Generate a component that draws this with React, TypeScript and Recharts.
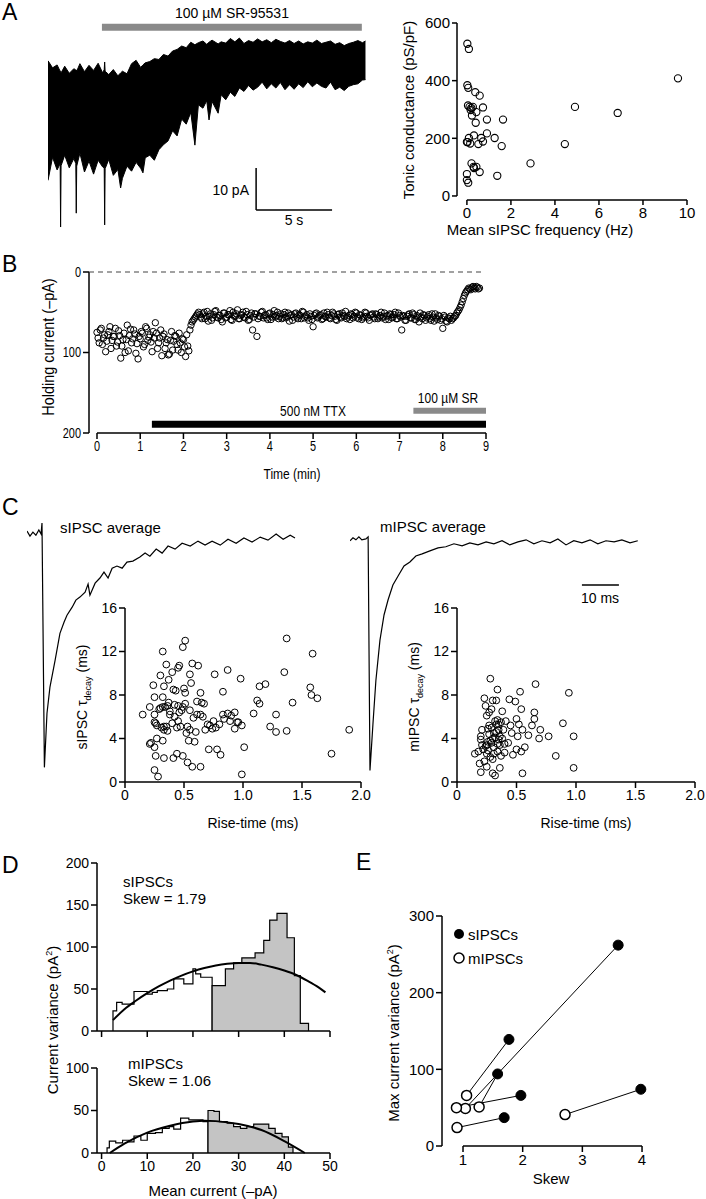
import React from 'react';
import { ComposedChart, Line, Area, Scatter, XAxis, YAxis, ReferenceLine } from 'recharts';

const FONT = '"Liberation Sans", Arial, Helvetica, sans-serif';

// ---------- Panel A: raw trace envelope (s, pA) ----------
const traceTimeS = [0.0,0.3,0.6,0.8,0.83,0.86,1.1,1.4,1.7,1.83,1.86,1.89,2.1,2.4,2.7,3.0,3.3,3.6,3.7,3.73,3.76,4.0,4.3,4.6,4.78,4.9,5.2,5.5,5.8,6.1,6.25,6.4,6.7,7.0,7.3,7.6,7.9,8.2,8.5,8.8,9.1,9.4,9.67,9.9,10.2,10.45,10.6,10.8,11.2,11.4,11.7,12.0,12.3,12.6,12.9,13.2,13.5,13.8,14.1,14.4,14.7,15.0,15.3,15.6,15.9,16.2,16.5,16.8,17.1,17.4,17.7,18.0,18.3,18.6,18.9,19.2,19.5,19.8,20.1,20.4,20.7,20.9];
const traceHighPA = [41.5,39.8,40.5,39.0,39.0,38.6,40.2,38.5,39.6,39.3,39.3,39.0,40.8,38.9,40.4,39.2,40.9,38.6,39.4,41.2,39.0,38.2,39.4,37.9,38.6,39.0,38.4,40.8,41.6,39.9,40.5,41.0,41.3,42.0,41.8,43.0,42.6,43.8,44.2,45.0,44.6,45.9,45.3,45.8,46.2,45.4,45.9,46.4,45.5,46.0,45.7,46.8,46.0,46.9,45.6,46.3,45.9,46.7,46.0,46.5,45.8,46.6,46.1,45.7,46.3,45.6,46.2,45.5,46.0,45.7,46.4,45.6,45.9,46.2,45.4,45.8,45.1,45.6,45.9,46.3,45.8,46.2];
const traceLowPA = [13.0,18.5,15.5,17.0,1.9,16.5,19.0,16.0,18.2,17.0,5.2,16.4,19.5,15.0,17.6,14.5,17.8,16.2,16.0,2.4,15.8,18.0,14.2,15.6,11.2,13.5,16.4,15.2,17.3,15.9,14.8,18.4,19.0,17.8,20.3,21.5,22.4,24.8,23.6,27.6,26.4,29.2,21.4,31.0,30.2,32.0,27.4,31.8,29.0,33.4,32.2,34.0,33.0,35.0,34.2,35.6,34.5,35.2,36.4,34.8,36.0,35.0,36.3,34.6,35.8,34.7,36.0,35.1,36.5,35.3,36.2,35.4,35.0,36.4,34.6,35.2,34.4,35.4,35.8,36.0,36.9,37.0];
const srBarA = { start: 3.55, end: 20.66, level: 49.5 };
const scaleBarA = { t: 13.7, pA0: 5.95, pA1: 15.95, t1: 18.7 };

// ---------- Panel A: scatter ----------
const freqHz = [0.02,0.09,0.02,0.06,0.38,0.58,0.05,0.12,0.2,0.27,0.17,0.73,0.23,0.43,0.91,1.64,0.4,0.91,1.26,0.65,0.32,0.09,0.0,0.03,0.15,0.52,0.73,1.58,4.45,4.91,6.85,9.59,2.89,0.21,0.3,0.43,0.32,0.58,1.38,0.0,0.0,0.06];
const tonicPSpF = [528,510,384,375,360,348,314,309,305,309,298,307,279,291,265,265,254,217,201,201,210,201,187,187,182,180,189,173,180,309,288,408,113,113,101,101,97,83,70,76,55,46];

// ---------- Panel B (two interleaved sample sets, 3 s apart each) ----------
const holdingStepMin = 0.05;
const holdingPA = [75,88,70,82,99,78,68,85,80,92,73,107,84,100,66,79,88,72,101,108,83,76,90,70,81,87,74,63,95,82,104,77,88,103,85,97,79,90,76,100,84,105,92,72,62,58,54,50,56,52,58,49,55,60,53,48,57,54,62,51,56,53,59,50,55,47,58,53,56,49,60,54,72,52,80,55,50,57,53,59,51,56,48,54,58,52,57,50,55,61,53,56,51,58,54,49,57,53,60,55,68,52,57,54,59,51,56,53,58,50,55,60,52,57,54,49,56,59,53,55,51,58,54,57,50,55,60,53,56,52,58,54,57,51,55,59,53,56,50,58,54,72,55,60,53,57,51,59,54,62,56,53,60,55,58,52,61,57,54,60,70,56,62,58,60,57,54,49,44,37,29,24,20,22,18,21,19,20];
const holdingPA2 = [82,72,90,78,86,74,95,80,70,87,79,92,76,84,98,71,83,77,89,80,74,93,68,85,78,99,82,76,88,72,80,95,84,102,74,86,80,97,88,83,93,78,98,66,60,56,52,53,58,50,55,61,52,57,49,56,54,59,51,57,53,48,60,55,52,58,54,50,57,53,59,51,56,52,58,55,49,54,57,52,59,53,56,50,55,58,53,57,51,54,60,52,56,53,58,50,55,57,52,59,54,51,56,53,58,55,50,57,54,52,59,53,56,51,55,58,54,52,57,50,56,53,59,55,51,57,54,52,58,53,56,50,55,59,54,52,57,53,58,51,56,54,60,55,52,57,53,59,56,51,58,54,57,53,60,56,52,59,55,58,54,61,57,55,58,55,51,47,41,33,26,22,21,19,20,18,21];
const ttxBar = { start: 1.27, end: 9.0, level: 189 };
const srBarB = { start: 7.32, end: 9.0, level: 172.5 };

// ---------- Panel C: averages (ms, % of peak) ----------
const sAvgT = [0,0.8,1.6,2.4,3.2,3.8,4.05,4.7,5.4,6.2,7.6,8.9,10.0,10.8,12.2,13.2,14.3,15.7,16.5,17.0,18.4,19.7,20.8,21.9,23.0,24.3,25.7,27.0,28.6,30.5,31.9,33.2,34.9,36.5,38.1,40.0,41.9,44.1,46.2,48.1,50.0,52.2,54.3,56.5,58.6,60.8,63.0,65.1,67.3,69.2,71.1,72.4];
const sAvgV = [0.9,-1.3,0.4,-0.9,1.3,-0.4,4.3,-99.6,-76.6,-65.5,-54,-42.6,-37.9,-34.9,-31.5,-28.5,-27.2,-25.1,-21.7,-26.4,-21.3,-19.1,-16.6,-19.1,-14.9,-14.0,-14.9,-12.3,-11.9,-10.2,-8.5,-9.8,-6.8,-8.5,-5.5,-6.8,-4.3,-5.5,-3.4,-5.1,-3.4,-5.1,-2.6,-4.3,-2.1,-3.8,-1.7,-3.0,-0.4,-2.6,-0.9,-2.1];
const mAvgT = [0,0.8,1.6,2.4,3.2,4.3,4.9,5.4,6.2,7.0,8.1,9.2,10.3,11.6,13.0,14.6,16.2,17.8,19.5,21.6,23.8,25.9,28.1,30.3,32.4,34.6,36.8,38.9,41.1,43.2,45.4,47.6,49.7,51.9,54.1,56.2,58.4,60.5,62.7,64.9,67.0,69.2,71.4,73.5,75.7,77.8];
const mAvgV = [-0.4,0.9,0,1.3,0,0.4,1.3,-100,-80,-61,-43.5,-32.6,-26,-19.6,-15.7,-11.3,-9.6,-7.0,-6.1,-4.8,-3.5,-3.0,-1.7,-2.6,-1.3,-2.2,-0.9,-1.7,-0.4,-2.2,-0.9,0,-1.7,-0.4,-1.3,0.4,-2.2,-0.4,-1.3,0,-1.7,-0.4,-0.9,0,-1.3,-0.4];
const scaleBarC = { t0: 62.7, t1: 72.7, v: -19.6 };

// ---------- Panel C: scatters ----------
const sRise = [0.15,0.21,0.21,0.22,0.25,0.24,0.25,0.25,0.25,0.26,0.27,0.27,0.25,0.28,0.26,0.3,0.32,0.32,0.33,0.32,0.33,0.32,0.33,0.35,0.35,0.37,0.36,0.38,0.4,0.41,0.42,0.41,0.43,0.45,0.46,0.44,0.45,0.47,0.45,0.49,0.51,0.5,0.51,0.49,0.51,0.49,0.53,0.53,0.54,0.55,0.56,0.55,0.57,0.57,0.55,0.59,0.61,0.62,0.61,0.64,0.65,0.64,0.67,0.64,0.68,0.71,0.72,0.75,0.76,0.78,0.8,0.81,0.83,0.83,0.87,0.87,0.89,0.93,0.93,0.95,0.98,0.99,1.01,0.99,1.09,1.12,1.14,1.14,1.19,1.23,1.28,1.28,1.35,1.37,1.37,1.42,1.57,1.58,1.59,1.63,1.75,1.9,0.3,0.31,0.34,0.36,0.38,0.42,0.44,0.48,0.52,0.33,0.37,0.29,0.4,0.46,0.58,0.6,0.66,0.7,0.74,0.77,0.84,0.9,0.96];
const sTau = [6.2,6.9,3.5,3.6,3.2,8.9,7.8,6.2,5.5,5.4,4.0,5.2,1.1,0.5,2.4,9.8,12.0,7.8,8.8,6.9,5.1,3.8,2.2,10.8,5.1,9.4,7.0,6.2,10.1,8.5,6.0,2.2,8.4,10.5,10.7,2.6,5.6,5.1,7.0,12.4,13.0,8.6,8.2,6.9,7.2,2.4,1.8,5.1,3.8,9.9,9.1,6.6,1.4,10.9,4.8,3.7,7.4,10.7,6.2,8.2,7.3,6.2,7.2,1.4,4.8,3.0,5.2,5.6,9.9,3.0,5.3,2.5,8.3,6.2,10.3,6.3,5.6,6.4,4.9,5.5,9.5,5.2,3.2,0.7,6.3,7.5,7.2,8.8,9.0,5.1,4.6,6.2,10.1,13.2,4.7,7.3,8.7,8.0,11.8,7.7,2.6,4.8,6.8,5.0,6.9,4.7,6.5,7.1,5.0,6.6,4.5,4.8,7.3,6.7,5.4,6.4,5.9,4.6,6.0,5.3,4.9,5.0,5.8,6.1,5.5];
const mRise = [0.15,0.2,0.19,0.18,0.2,0.2,0.21,0.23,0.24,0.25,0.25,0.25,0.26,0.27,0.27,0.28,0.28,0.29,0.3,0.3,0.31,0.32,0.32,0.33,0.34,0.34,0.34,0.35,0.36,0.36,0.37,0.38,0.39,0.4,0.41,0.43,0.44,0.45,0.46,0.47,0.49,0.5,0.5,0.51,0.52,0.53,0.54,0.54,0.55,0.55,0.57,0.6,0.63,0.65,0.65,0.66,0.69,0.7,0.77,0.83,0.89,0.94,0.98,0.98,0.22,0.24,0.26,0.28,0.3,0.31,0.33,0.35,0.27,0.29,0.32,0.34,0.36,0.38,0.25,0.23,0.3,0.33,0.37,0.4,0.21,0.26,0.29,0.31,0.35];
const mTau = [2.6,0.9,1.7,2.8,3.9,4.2,4.8,7.7,7.0,6.1,3.4,1.4,3.7,6.4,5.2,2.3,9.5,6.7,7.5,0.8,4.5,5.6,0.6,7.5,3.5,8.5,5.7,5.3,4.2,1.3,2.4,6.5,4.8,3.5,5.6,3.6,7.6,5.2,4.5,2.5,7.4,3.0,5.8,4.2,5.3,8.3,2.8,6.7,0.8,4.8,3.2,4.3,5.2,6.4,5.8,9.0,4.0,4.8,4.2,2.4,5.4,8.2,4.2,1.3,3.0,3.3,2.9,3.8,4.0,3.2,4.6,3.9,4.4,5.0,4.1,2.8,3.4,4.0,2.6,1.9,2.1,5.3,5.5,2.7,3.4,4.9,3.6,2.6,4.8];

// ---------- Panel D ----------
const sWhiteX = [2.5,2.5,3.3,4.5,7.1,10,11.1,12.2,14.4,15.8,18,20,20.6,21.7,24.2];
const sWhiteY = [0,24,34,32,47,44,46,48,50,62,56,74,68,64,0];
const sGrayX = [24.2,24.2,27.1,28.9,30.7,33.6,35.5,36.8,38.4,40.6,42.2,43.5,45.3,45.3];
const sGrayY = [0,54,74,81,87,93,108,132,140,111,66,9,9,0];
const sFitX = [2.5,5,7.5,10,12.5,15,17.5,20,22.5,25,27.5,30,32.5,35,37.5,40,42.5,45,47.5,49];
const sFitY = [13,26,36,45,53,60,66,71,75,78,80,81,81,79,76,72,67,60,52,46];
const mWhiteX = [1.2,1.2,1.7,3.1,4.6,6.0,7.1,8.6,10.0,11.8,13.3,14.8,15.8,17.3,19.1,20.9,22.2,23.3];
const mWhiteY = [0,6,14,12,15,13,20,15,23,24,29,31,28,41,39,39,37,0];
const mGrayX = [23.3,23.3,24.6,25.8,27.5,28.9,30.4,31.8,33.3,36.6,38.0,39.5,40.9,41.9];
const mGrayY = [0,50,49,37,35,31,29,31,34,29,23,19,7,0];
const mFitX = [1.8,5,10,15,20,22.5,25,30,35,40,44.5];
const mFitY = [0,11,24,32,37,38,37.5,34,27,14,0];

// ---------- Panel E ----------
const mSkew = [1.04,1.06,1.27,0.89,0.9,2.71];
const mMaxVar = [49,66,51,50,24,41];
const sSkew = [3.6,1.77,1.58,1.97,1.69,3.98];
const sMaxVar = [262,139,94,66,37,74];

// ---------- helpers ----------
const zip = (xs: number[], ys: number[]) => xs.map((x, i) => ({ x, y: ys[i] }));
const tickStyle = (size: number) => ({ fill: '#000', fontSize: size, fontFamily: FONT });
const AX = { stroke: '#000', strokeWidth: 1.5 };

const narrowTick = (dy: string) => (p: any) => (
  <g transform={`translate(${p.x},${p.y})`}>
    <text transform="scale(0.78,1)" textAnchor={p.textAnchor} dy={dy} fill="#000" fontSize={14} fontFamily={FONT}>
      {p.payload.value}
    </text>
  </g>
);

function frame(x0: number, y0: number, x1: number, y1: number, yW: number, xH: number) {
  const mt = 8, mr = 12, mb = 4;
  return {
    left: x0 - yW, top: y0 - mt,
    width: x1 - x0 + yW + mr, height: y1 - y0 + mt + xH + mb,
    margin: { top: mt, right: mr, bottom: mb, left: 0 },
  };
}

function Chart({ f, data, children }: any) {
  return (
    <div style={{ position: 'absolute', left: f.left, top: f.top }}>
      <ComposedChart width={f.width} height={f.height} margin={f.margin} data={data}>
        {children}
      </ComposedChart>
    </div>
  );
}

function Txt({ x, y, a = 'm', rot = false, size = 14, sx = 1, children }: any) {
  const tx = a === 'm' ? '-50%' : a === 'e' ? '-100%' : '0';
  const origin = a === 'm' ? 'center' : a === 'e' ? 'right center' : 'left center';
  return (
    <div style={{
      position: 'absolute', left: x, top: y, whiteSpace: 'nowrap', lineHeight: 1,
      fontSize: size, fontFamily: FONT, color: '#000', transformOrigin: rot ? 'center' : origin,
      transform: rot ? `translate(-50%, -50%) rotate(-90deg) scaleX(${sx})` : `translate(${tx}, -50%) scaleX(${sx})`,
    }}>{children}</div>
  );
}

const openDot = (r: number, sw = 1, fill = 'none') => (p: any) =>
  <circle cx={p.cx} cy={p.cy} r={r} fill={fill} stroke="#000" strokeWidth={sw} />;
const filledDot = (r: number) => (p: any) => <circle cx={p.cx} cy={p.cy} r={r} fill="#000" stroke="#000" />;

export default function App() {
  const traceRows = traceTimeS.map((t, i) => ({ x: t, r: [traceLowPA[i], traceHighPA[i]] }));
  const aScatter = zip(freqHz, tonicPSpF);
  const bPoints = [
    ...holdingPA.map((v, i) => ({ x: i * holdingStepMin, y: v })),
    ...holdingPA2.map((v, i) => ({ x: (i + 0.5) * holdingStepMin, y: v })),
  ];
  const sAvg = zip(sAvgT, sAvgV);
  const mAvg = zip(mAvgT, mAvgV);
  const sSc = zip(sRise, sTau);
  const mSc = zip(mRise, mTau);
  const dTopRows = [
    ...sWhiteX.map((x, i) => ({ x, w: sWhiteY[i] })),
    ...sGrayX.map((x, i) => ({ x, g: sGrayY[i] })),
  ];
  const dBotRows = [
    ...mWhiteX.map((x, i) => ({ x, w: mWhiteY[i] })),
    ...mGrayX.map((x, i) => ({ x, g: mGrayY[i] })),
  ];

  const fTrace = frame(48, 20, 367, 235, 0, 0);
  const fAS = frame(457, 23, 687, 200, 50, 30);
  const fB = frame(89, 272, 486, 433, 50, 30);
  const fCsT = frame(27, 519, 295, 773, 0, 0);
  const fCmT = frame(350, 526, 640, 775, 0, 0);
  const fCs = frame(125, 608, 361, 782, 40, 30);
  const fCm = frame(457, 608, 695, 782, 40, 30);
  const fDt = frame(97, 863, 330, 1031, 40, 10);
  const fDb = frame(97, 1068, 330, 1153, 40, 30);
  const fE = frame(442, 916, 648, 1146, 50, 30);

  return (
    <div style={{ position: 'absolute', left: 0, top: 0, width: 706, height: 1199, background: '#fff', overflow: 'hidden', fontFamily: FONT }}>
      {/* A trace */}
      <Chart f={fTrace} data={traceRows}>
        <XAxis type="number" dataKey="x" domain={[0, 21]} hide />
        <YAxis type="number" domain={[0, 51.2]} hide />
        <Area dataKey="r" type="linear" fill="#000" fillOpacity={1} stroke="#000" strokeWidth={1} isAnimationActive={false} />
        <ReferenceLine ifOverflow="visible" segment={[{ x: srBarA.start, y: srBarA.level }, { x: srBarA.end, y: srBarA.level }]} stroke="#8a8a8a" strokeWidth={7} />
        <ReferenceLine ifOverflow="visible" segment={[{ x: scaleBarA.t, y: scaleBarA.pA1 }, { x: scaleBarA.t, y: scaleBarA.pA0 }]} stroke="#000" strokeWidth={1.5} />
        <ReferenceLine ifOverflow="visible" segment={[{ x: scaleBarA.t, y: scaleBarA.pA0 }, { x: scaleBarA.t1, y: scaleBarA.pA0 }]} stroke="#000" strokeWidth={1.5} />
      </Chart>

      {/* A scatter */}
      <Chart f={fAS}>
        <XAxis type="number" dataKey="x" domain={[-0.45, 10]} ticks={[0, 2, 4, 6, 8, 10]} interval={0} axisLine={false} tickLine={AX} tick={tickStyle(15)} tickSize={5} height={30} />
        <YAxis type="number" dataKey="y" domain={[-14, 600]} ticks={[0, 200, 400, 600]} interval={0} axisLine={false} tickLine={AX} tick={tickStyle(15)} tickSize={5} width={50} />
        <ReferenceLine ifOverflow="visible" segment={[{ x: -0.45, y: 0 }, { x: -0.45, y: 600 }]} stroke="#000" strokeWidth={1.5} />
        <ReferenceLine ifOverflow="visible" segment={[{ x: 0, y: -14 }, { x: 10, y: -14 }]} stroke="#000" strokeWidth={1.5} />
        <Scatter data={aScatter} dataKey="y" shape={openDot(3.6, 1.1)} isAnimationActive={false} />
      </Chart>

      {/* B */}
      <Chart f={fB}>
        <XAxis type="number" dataKey="x" domain={[-0.185, 9]} ticks={[0, 1, 2, 3, 4, 5, 6, 7, 8, 9]} interval={0} axisLine={false} tickLine={AX} tick={narrowTick('0.71em')} tickSize={6} height={30} />
        <YAxis type="number" dataKey="y" reversed domain={[0, 200]} ticks={[0, 100, 200]} interval={0} axisLine={false} tickLine={AX} tick={narrowTick('0.355em')} tickSize={6} width={50} />
        <ReferenceLine ifOverflow="visible" segment={[{ x: -0.185, y: 0 }, { x: -0.185, y: 200 }]} stroke="#000" strokeWidth={1.5} />
        <ReferenceLine ifOverflow="visible" segment={[{ x: 0, y: 200 }, { x: 9, y: 200 }]} stroke="#000" strokeWidth={1.5} />
        <ReferenceLine ifOverflow="visible" segment={[{ x: -0.185, y: 0 }, { x: 8.95, y: 0 }]} stroke="#444" strokeWidth={1.2} strokeDasharray="5 4" />
        <ReferenceLine ifOverflow="visible" segment={[{ x: ttxBar.start, y: ttxBar.level }, { x: ttxBar.end, y: ttxBar.level }]} stroke="#000" strokeWidth={7} />
        <ReferenceLine ifOverflow="visible" segment={[{ x: srBarB.start, y: srBarB.level }, { x: srBarB.end, y: srBarB.level }]} stroke="#8a8a8a" strokeWidth={6} />
        <Scatter data={bPoints} dataKey="y" shape={openDot(3.2, 1)} isAnimationActive={false} />
      </Chart>

      {/* C traces */}
      <Chart f={fCsT} data={sAvg}>
        <XAxis type="number" dataKey="x" domain={[0, 72.4]} hide />
        <YAxis type="number" domain={[-102, 6]} hide />
        <Line dataKey="y" type="linear" stroke="#000" strokeWidth={1.2} dot={false} isAnimationActive={false} />
      </Chart>
      <Chart f={fCmT} data={mAvg}>
        <XAxis type="number" dataKey="x" domain={[0, 78.4]} hide />
        <YAxis type="number" domain={[-102, 6]} hide />
        <Line dataKey="y" type="linear" stroke="#000" strokeWidth={1.2} dot={false} isAnimationActive={false} />
        <ReferenceLine ifOverflow="visible" segment={[{ x: scaleBarC.t0, y: scaleBarC.v }, { x: scaleBarC.t1, y: scaleBarC.v }]} stroke="#000" strokeWidth={1.5} />
      </Chart>

      {/* C scatters */}
      <Chart f={fCs}>
        <XAxis type="number" dataKey="x" domain={[0, 2]} ticks={[0, 0.5, 1, 1.5, 2]} interval={0} tickFormatter={(v: number) => (v === 0 ? '0' : v.toFixed(1))} axisLine={AX} tickLine={AX} tick={tickStyle(14)} height={30} />
        <YAxis type="number" dataKey="y" domain={[0, 16]} ticks={[0, 4, 8, 12, 16]} interval={0} axisLine={AX} tickLine={AX} tick={tickStyle(14)} width={40} />
        <Scatter data={sSc} dataKey="y" shape={openDot(3.4, 1)} isAnimationActive={false} />
      </Chart>
      <Chart f={fCm}>
        <XAxis type="number" dataKey="x" domain={[0, 2]} ticks={[0, 0.5, 1, 1.5, 2]} interval={0} tickFormatter={(v: number) => (v === 0 ? '0' : v.toFixed(1))} axisLine={AX} tickLine={AX} tick={tickStyle(14)} height={30} />
        <YAxis type="number" dataKey="y" domain={[0, 16]} ticks={[0, 4, 8, 12, 16]} interval={0} axisLine={AX} tickLine={AX} tick={tickStyle(14)} width={40} />
        <Scatter data={mSc} dataKey="y" shape={openDot(3.4, 1)} isAnimationActive={false} />
      </Chart>

      {/* D top */}
      <Chart f={fDt} data={dTopRows}>
        <XAxis type="number" dataKey="x" domain={[-1, 50]} ticks={[0, 10, 20, 30, 40, 50]} interval={0} tickFormatter={() => ''} axisLine={AX} tickLine={AX} tick={tickStyle(14)} height={10} />
        <YAxis type="number" domain={[0, 200]} ticks={[0, 50, 100, 150, 200]} interval={0} axisLine={AX} tickLine={AX} tick={tickStyle(14)} width={40} />
        <Area dataKey="w" type="stepAfter" connectNulls fill="#fff" fillOpacity={1} stroke="#000" strokeWidth={1.2} isAnimationActive={false} />
        <Area dataKey="g" type="stepAfter" connectNulls fill="#c4c4c4" fillOpacity={1} stroke="#000" strokeWidth={1.2} isAnimationActive={false} />
        <Line data={zip(sFitX, sFitY)} dataKey="y" type="monotone" stroke="#000" strokeWidth={2} dot={false} isAnimationActive={false} />
      </Chart>
      {/* D bottom */}
      <Chart f={fDb} data={dBotRows}>
        <XAxis type="number" dataKey="x" domain={[-1, 50]} ticks={[0, 10, 20, 30, 40, 50]} interval={0} axisLine={AX} tickLine={AX} tick={tickStyle(14)} height={30} />
        <YAxis type="number" domain={[0, 100]} ticks={[0, 50, 100]} interval={0} axisLine={AX} tickLine={AX} tick={tickStyle(14)} width={40} />
        <Area dataKey="w" type="stepAfter" connectNulls fill="#fff" fillOpacity={1} stroke="#000" strokeWidth={1.2} isAnimationActive={false} />
        <Area dataKey="g" type="stepAfter" connectNulls fill="#c4c4c4" fillOpacity={1} stroke="#000" strokeWidth={1.2} isAnimationActive={false} />
        <Line data={zip(mFitX, mFitY)} dataKey="y" type="monotone" stroke="#000" strokeWidth={2} dot={false} isAnimationActive={false} />
      </Chart>

      {/* E */}
      <Chart f={fE}>
        <XAxis type="number" dataKey="x" domain={[0.648, 4.1]} ticks={[1, 2, 3, 4]} interval={0} axisLine={false} tickLine={AX} tick={tickStyle(15)} height={30} />
        <YAxis type="number" dataKey="y" domain={[0, 300]} ticks={[0, 100, 200, 300]} interval={0} axisLine={AX} tickLine={AX} tick={tickStyle(15)} width={50} />
        <ReferenceLine ifOverflow="visible" segment={[{ x: 1, y: 0 }, { x: 4, y: 0 }]} stroke="#000" strokeWidth={1.5} />
        {mSkew.map((m, i) => (
          <Line key={'p' + i} data={[{ x: m, y: mMaxVar[i] }, { x: sSkew[i], y: sMaxVar[i] }]} dataKey="y" type="linear" stroke="#000" strokeWidth={1} dot={false} isAnimationActive={false} />
        ))}
        <Scatter data={zip(sSkew, sMaxVar)} dataKey="y" shape={filledDot(5)} isAnimationActive={false} />
        <Scatter data={zip(mSkew, mMaxVar)} dataKey="y" shape={openDot(5, 1.5, '#fff')} isAnimationActive={false} />
      </Chart>

      {/* Text labels */}
      <Txt x={2} y={12} a="s" size={23}>A</Txt>
      <Txt x={232} y={13} size={14}>100 µM SR-95531</Txt>
      <Txt x={249} y={190} a="e" size={14}>10 pA</Txt>
      <Txt x={294} y={220} size={14}>5 s</Txt>
      <Txt x={408} y={110} rot size={15}>Tonic conductance (pS/pF)</Txt>
      <Txt x={540} y={229} size={15}>Mean sIPSC frequency (Hz)</Txt>

      <Txt x={2} y={264} a="s" size={23}>B</Txt>
      <Txt x={48} y={347} rot size={17} sx={0.85}>Holding current (–pA)</Txt>
      <Txt x={313} y={410} size={15} sx={0.8}>500 nM TTX</Txt>
      <Txt x={448} y={397} size={15} sx={0.8}>100 µM SR</Txt>
      <Txt x={292} y={473} size={15} sx={0.8}>Time (min)</Txt>

      <Txt x={2} y={507} a="s" size={23}>C</Txt>
      <Txt x={60} y={527} a="s" size={15}>sIPSC average</Txt>
      <Txt x={380} y={526} a="s" size={15}>mIPSC average</Txt>
      <Txt x={600} y={598} size={14}>10 ms</Txt>
      <Txt x={84} y={697} rot size={14}>sIPSC τ<sub style={{ fontSize: 9 }}>decay</sub> (ms)</Txt>
      <Txt x={416} y={697} rot size={14}>mIPSC τ<sub style={{ fontSize: 9 }}>decay</sub> (ms)</Txt>
      <Txt x={253} y={823} size={14}>Rise-time (ms)</Txt>
      <Txt x={586} y={823} size={14}>Rise-time (ms)</Txt>

      <Txt x={2} y={865} a="s" size={23}>D</Txt>
      <Txt x={123} y={881} a="s" size={15}>sIPSCs</Txt>
      <Txt x={123} y={898} a="s" size={15}>Skew = 1.79</Txt>
      <Txt x={128} y={1063} a="s" size={15}>mIPSCs</Txt>
      <Txt x={128} y={1080} a="s" size={15}>Skew = 1.06</Txt>
      <Txt x={52} y={1020} rot size={15}>Current variance (pA<sup style={{ fontSize: 9 }}>2</sup>)</Txt>
      <Txt x={213} y={1190} size={15}>Mean current (–pA)</Txt>

      <Txt x={356} y={862} a="s" size={23}>E</Txt>
      <Txt x={393} y={1033} rot size={15}>Max current variance (pA<sup style={{ fontSize: 9 }}>2</sup>)</Txt>
      <Txt x={551} y={1178} size={15}>Skew</Txt>
      <svg style={{ position: 'absolute', left: 452, top: 927 }} width={14} height={40}>
        <circle cx={7} cy={7} r={5} fill="#000" />
        <circle cx={7} cy={31} r={5} fill="#fff" stroke="#000" strokeWidth={1.5} />
      </svg>
      <Txt x={468} y={934} a="s" size={15}>sIPSCs</Txt>
      <Txt x={468} y={958} a="s" size={15}>mIPSCs</Txt>
    </div>
  );
}
